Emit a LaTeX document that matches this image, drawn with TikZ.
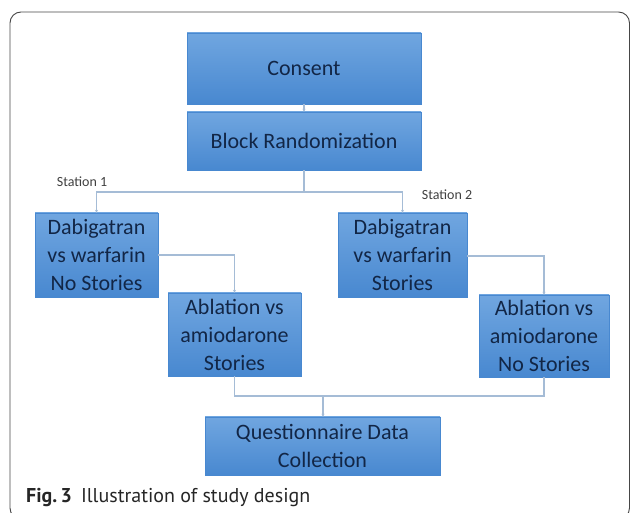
\documentclass[tikz,border=0pt]{standalone}
\usepackage{fontspec}
\setmainfont{Carlito}
\newfontfamily\capfont{PT Sans}
\usetikzlibrary{arrows.meta}
\definecolor{boxtop}{RGB}{112,166,224}
\definecolor{boxbot}{RGB}{72,136,208}
\definecolor{boxtxt}{RGB}{18,38,70}
\definecolor{conn}{RGB}{165,188,214}
\definecolor{framec}{RGB}{70,70,70}
\tikzset{
  flowbox/.style={rectangle, inner sep=0pt, top color=boxtop, bottom color=boxbot,
    draw=boxbot, line width=0.4pt, text=boxtxt, align=center,
    font=\fontsize{22}{28}\selectfont},
  conline/.style={draw=conn, line width=1.1pt},
  conarrow/.style={conline, -{Stealth[length=3pt,width=3pt]}},
  stationlbl/.style={font=\fontsize{14}{16}\selectfont, text=black!75}
}
\begin{document}
\begin{tikzpicture}[x=1pt,y=-1pt]
\useasboundingbox (0,0) rectangle (630,513);
\begin{scope}
\clip (0,0) rectangle (630,513);
\draw[framec, line width=0.9pt, rounded corners=11pt] (10,12) rectangle (629.5,519);
\end{scope}
% boxes
\node[flowbox, minimum width=234pt, minimum height=71pt] (consent) at (304,68.5) {Consent};
\node[flowbox, minimum width=234pt, minimum height=58pt] (block) at (304,141) {Block Randomization};
\node[flowbox, minimum width=123pt, minimum height=84pt] (dab1) at (96.5,255) {Dabigatran\\vs warfarin\\No Stories};
\node[flowbox, minimum width=129pt, minimum height=84pt] (dab2) at (402.5,255) {Dabigatran\\vs warfarin\\Stories};
\node[flowbox, minimum width=133pt, minimum height=83pt] (abl1) at (234.5,334.5) {Ablation vs\\amiodarone\\Stories};
\node[flowbox, minimum width=130pt, minimum height=82pt] (abl2) at (544,336) {Ablation vs\\amiodarone\\No Stories};
\node[flowbox, minimum width=235pt, minimum height=58pt] (quest) at (322.5,446) {Questionnaire Data\\Collection};
% labels
\node[stationlbl] (st1) at (82,182) {Station 1};
\node[stationlbl] (st2) at (447,195) {Station 2};
% connectors
\coordinate (split) at (304,192);
\coordinate (join) at (323,396);
\draw[conarrow] (consent.south) -- (block.north);
\draw[conline] (block.south) -- (split);
\draw[conarrow] (split) -| (dab1.north);
\draw[conarrow] (split) -| (dab2.north);
\draw[conarrow] (dab1.east |- 0,255) -| (abl1.north);
\draw[conarrow] (dab2.east |- 0,256) -| (abl2.north);
\draw[conline] (abl1.south) |- (join);
\draw[conline] (abl2.south) |- (join);
\draw[conarrow] (join) -- (join |- quest.north);
% caption
\node[anchor=base west, inner sep=0pt, font=\capfont\fontsize{20}{22}\selectfont, text=black!85] (cap) at (26,502) {\textbf{Fig.\,3}\hspace{9pt}Illustration of study design};
\end{tikzpicture}
\end{document}
